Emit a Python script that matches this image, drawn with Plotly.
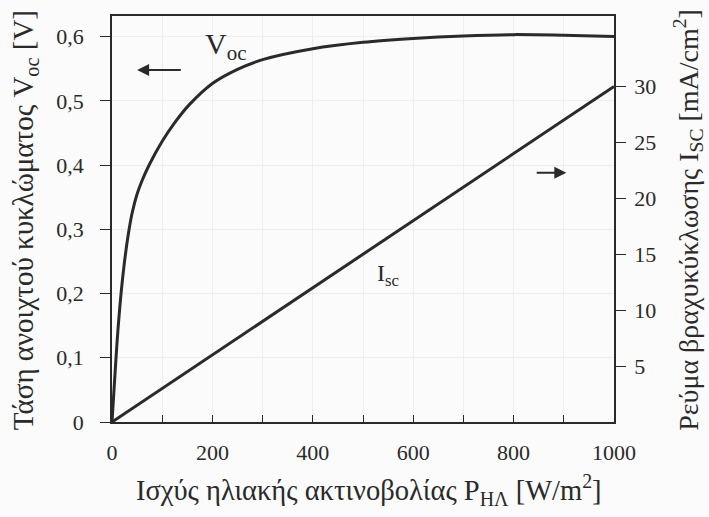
import plotly.graph_objects as go

# Data
p_irr = [0, 4, 8, 12, 18, 25, 32, 40, 50, 60, 74, 100, 125, 154, 200, 250, 300, 400, 500, 600, 700, 800, 900, 1000]
v_oc = [0, 0.05, 0.10, 0.145, 0.20, 0.25, 0.29, 0.325, 0.355, 0.376, 0.40, 0.437, 0.466, 0.494, 0.527, 0.549,
        0.564, 0.581, 0.591, 0.597, 0.601, 0.603, 0.602, 0.600]
p_isc = [0, 500, 1000]
i_sc = [0, 15, 30]

left_tickvals = [0, 0.1, 0.2, 0.3, 0.4, 0.5, 0.6]
left_ticktext = ["0", "0,1", "0,2", "0,3", "0,4", "0,5", "0,6"]
right_tickvals = [5, 10, 15, 20, 25, 30]
x_tickvals = [0, 200, 400, 600, 800, 1000]

FONT = "Liberation Serif, DejaVu Serif, serif"
INK = "#2a2a2a"
GRID = "#eeeeee"

fig = go.Figure()
fig.add_trace(go.Scatter(x=p_irr, y=v_oc, mode="lines",
                         line=dict(color=INK, width=3, shape="spline", smoothing=0.8),
                         yaxis="y", showlegend=False))
fig.add_trace(go.Scatter(x=p_isc, y=i_sc, mode="lines", line=dict(color=INK, width=3),
                         yaxis="y2", showlegend=False))

fig.update_layout(
    width=709, height=517,
    margin=dict(l=112, r=95, t=16, b=95),
    paper_bgcolor="#fbfbfb", plot_bgcolor="#fbfbfb",
    font=dict(family=FONT, size=22, color=INK),
    xaxis=dict(range=[0, 1000], tickvals=x_tickvals, ticks="inside", ticklen=7, tickcolor=INK,
               minor=dict(dtick=100, ticks="inside", ticklen=7, tickcolor=INK, showgrid=True, gridcolor=GRID),
               showline=True, linecolor=INK, linewidth=1.5, mirror=True,
               showgrid=True, gridcolor=GRID, zeroline=False,
               tickfont=dict(size=22, family=FONT), ticklabelstandoff=10),
    yaxis=dict(range=[0, 0.632], tickvals=left_tickvals, ticktext=left_ticktext,
               ticks="outside", ticklen=10, tickcolor=INK,
               showline=True, linecolor=INK, linewidth=1.5,
               showgrid=True, gridcolor=GRID, zeroline=False,
               tickfont=dict(size=22, family=FONT), ticklabelstandoff=12),
    yaxis2=dict(range=[0, 36.3], overlaying="y", side="right", tickvals=right_tickvals,
                ticks="outside", ticklen=10, tickcolor=INK,
                showline=True, linecolor=INK, linewidth=1.5,
                showgrid=False, zeroline=False,
                tickfont=dict(size=22, family=FONT), ticklabelstandoff=4),
)

# Axis titles
fig.add_annotation(x=-0.173, y=0.4975, xref="paper", yref="paper", xanchor="center", yanchor="middle",
                   textangle=-90, showarrow=False,
                   text="Τάση ανοιχτού κυκλώματος V<sub>oc</sub> [V]", font=dict(size=29, family=FONT, color=INK))
fig.add_annotation(x=1.147, y=0.4975, xref="paper", yref="paper", xanchor="center", yanchor="middle",
                   textangle=-90, showarrow=False,
                   text="Ρεύμα βραχυκύκλωσης I<sub>SC</sub> [mA/cm<sup>2</sup>]", font=dict(size=28, family=FONT, color=INK))
fig.add_annotation(x=0.512, y=-0.1675, xref="paper", yref="paper", xanchor="center", yanchor="middle",
                   showarrow=False,
                   text="Ισχύς ηλιακής ακτινοβολίας P<sub>ΗΛ</sub> [W/m<sup>2</sup>]", font=dict(size=28.5, family=FONT, color=INK))

# In-plot labels and arrows
fig.add_annotation(x=227, y=0.585, xref="x", yref="y", text="V<sub>oc</sub>", showarrow=False,
                   font=dict(size=30, family=FONT, color=INK))
fig.add_annotation(x=550, y=0.229, xref="x", yref="y", text="I<sub>sc</sub>", showarrow=False,
                   font=dict(size=24, family=FONT, color=INK))
fig.add_annotation(x=50, y=0.548, ax=140, ay=0.548, xref="x", yref="y", axref="x", ayref="y",
                   text="", showarrow=True, arrowhead=2, arrowsize=1.2, arrowwidth=2, arrowcolor=INK)
fig.add_annotation(x=905, y=0.388, ax=843, ay=0.388, xref="x", yref="y", axref="x", ayref="y",
                   text="", showarrow=True, arrowhead=2, arrowsize=1.2, arrowwidth=2, arrowcolor=INK)

fig.write_html("out.html")
